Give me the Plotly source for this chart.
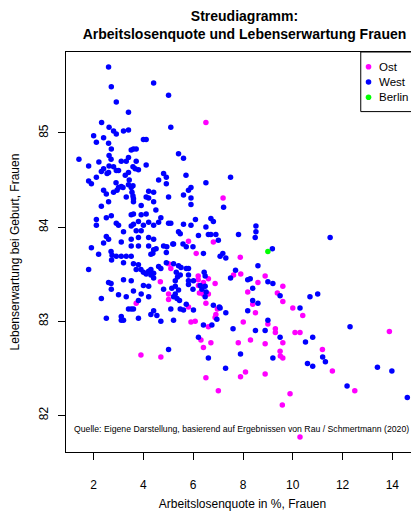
import plotly.graph_objects as go

# Arbeitslosenquote (x) und Lebenserwartung (y) je Kreis
west_x = [2.60, 2.71, 4.41, 5.01, 2.91, 3.40, 2.32, 5.10, 2.62, 2.80, 2.91, 3.20, 3.40, 2.00, 2.40, 2.11, 2.60,
          4.00, 4.11, 2.71, 3.51, 3.60, 3.71, 1.41, 2.62, 2.70, 2.21, 1.80, 3.11, 3.31, 3.40, 3.71, 4.11, 2.40,
          2.62, 2.80, 2.31, 2.54, 2.60, 2.91, 3.00, 3.58, 3.67, 3.80, 3.40, 3.27, 2.11, 1.80, 1.91, 3.43, 2.90,
          3.40, 3.51, 3.58, 3.11, 3.00, 2.94, 3.18, 2.80, 2.40, 2.51, 3.31, 3.58, 3.54, 2.60, 2.31, 3.60, 3.60,
          3.91, 4.11, 4.21, 4.41, 4.41, 4.21, 4.61, 4.81, 4.92, 4.92, 5.01, 4.50, 3.60, 3.51, 3.91, 4.11, 2.11,
          2.11, 2.51, 2.71, 2.91, 3.00, 3.20, 3.51, 3.60, 3.80, 3.71, 3.91, 4.21, 4.00, 4.41, 4.61, 4.70, 5.01,
          5.10, 5.61, 5.91, 6.09, 6.51, 6.71, 6.81, 5.41, 5.48, 6.21, 6.61, 6.71, 6.91, 7.01, 7.82, 8.52, 8.52,
          7.22, 6.51, 7.50, 5.41, 5.61, 5.71, 5.61, 5.81, 5.91, 5.91, 5.91, 2.51, 2.60, 2.40, 3.11, 3.51, 3.80,
          4.21, 4.41, 5.21, 8.49, 11.50,
          1.91, 2.20, 2.70, 2.74, 2.72, 3.20, 2.91, 3.11, 3.31, 3.51, 3.80, 3.51, 3.60, 3.80, 4.21, 4.30, 4.41,
          4.38, 4.51, 4.81, 4.94, 4.92, 5.18, 5.59, 5.72, 5.99, 6.41, 1.80, 4.00, 4.11, 4.21, 4.30, 4.41, 4.30,
          3.71, 3.90, 4.61, 4.70, 4.41, 4.92, 5.21, 5.41, 5.51, 5.72, 5.81, 5.32, 5.48, 5.37, 5.81, 5.81, 5.81,
          6.35, 6.48, 6.48, 6.28, 6.48, 6.52, 6.44, 6.81, 7.05, 6.95, 6.75, 6.41, 6.21, 6.61, 5.01, 2.31, 2.51,
          2.60, 2.70, 2.71, 3.00, 3.11, 3.20, 3.11, 3.20, 3.31, 3.40, 3.51, 3.60, 3.51, 3.60, 3.91, 3.80, 3.80,
          4.21, 4.21, 4.00, 4.30, 4.41, 4.54, 4.70, 4.81, 5.14, 5.28, 5.28, 5.41, 5.35, 5.45, 5.21, 5.28, 5.10,
          5.21, 5.48, 5.72, 6.01, 5.61, 6.01, 5.99,
          9.18, 7.19, 7.08, 7.31, 8.60, 7.70, 7.50, 8.19, 8.29, 9.00, 9.20, 8.39, 9.49, 8.39, 8.60, 8.19, 7.08,
          7.31, 7.60, 10.69, 11.00, 10.29, 9.00, 8.50, 8.89, 9.49, 10.80, 10.51, 12.30, 7.90, 9.20, 11.20, 11.31,
          10.59, 10.80, 7.30, 13.40, 13.98, 12.18, 14.60]
west_y = [85.70, 85.49, 85.53, 85.40, 85.33, 85.22, 85.11, 85.06, 85.06, 85.02, 84.99, 85.02, 85.03, 84.97, 84.95,
          84.90, 84.89, 84.93, 84.93, 84.83, 84.82, 84.83, 84.83, 84.72, 84.76, 84.72, 84.69, 84.65, 84.70, 84.70,
          84.74, 84.70, 84.66, 84.62, 84.65, 84.64, 84.59, 84.57, 84.58, 84.60, 84.60, 84.64, 84.62, 84.61, 84.58,
          84.55, 84.53, 84.49, 84.46, 84.50, 84.47, 84.45, 84.42, 84.44, 84.43, 84.42, 84.39, 84.42, 84.37, 84.39,
          84.35, 84.32, 84.33, 84.37, 84.27, 84.22, 84.30, 84.27, 84.23, 84.32, 84.31, 84.37, 84.27, 84.38, 84.50,
          84.57, 84.53, 84.46, 84.32, 84.18, 84.14, 84.13, 84.13, 84.14, 84.08, 84.02, 84.10, 84.12, 84.04, 84.02,
          83.95, 84.01, 84.03, 84.06, 83.96, 83.96, 84.05, 84.02, 84.02, 84.05, 84.10, 84.04, 84.04, 84.03, 84.02,
          84.08, 84.00, 84.09, 84.06, 83.95, 83.93, 83.91, 83.92, 83.92, 83.92, 83.86, 83.92, 84.01, 83.95, 84.21,
          84.47, 84.53, 84.78, 84.73, 84.55, 84.34, 84.39, 84.42, 84.31, 84.24, 83.90, 83.87, 83.83, 83.84, 83.87,
          83.89, 83.89, 83.87, 83.82, 83.89, 83.89,
          83.78, 83.71, 83.74, 83.70, 83.65, 83.62, 83.69, 83.69, 83.69, 83.69, 83.80, 83.80, 83.61, 83.60, 83.80,
          83.71, 83.76, 83.72, 83.77, 83.80, 83.79, 83.73, 83.82, 83.82, 83.79, 83.79, 83.72, 83.55, 83.52, 83.50,
          83.53, 83.55, 83.51, 83.49, 83.55, 83.55, 83.58, 83.56, 83.46, 83.62, 83.61, 83.59, 83.57, 83.56, 83.56,
          83.52, 83.49, 83.47, 83.49, 83.43, 83.39, 83.34, 83.37, 83.48, 83.38, 83.26, 83.31, 83.52, 83.17, 83.15,
          83.02, 82.96, 82.96, 82.83, 82.61, 82.70, 83.24, 83.03, 83.41, 83.40, 83.34, 83.28, 83.05, 83.01, 83.01,
          83.44, 83.26, 83.13, 83.13, 83.13, 83.43, 83.32, 83.29, 83.22, 83.03, 83.26, 83.37, 83.38, 83.07, 83.11,
          83.06, 83.00, 83.34, 83.35, 83.37, 83.29, 83.33, 83.24, 83.22, 83.26, 83.43, 83.13, 83.01, 83.13, 83.18,
          83.12, 83.12, 83.43, 83.34,
          83.77, 83.72, 83.69, 83.67, 83.59, 83.54, 83.46, 83.44, 83.45, 83.42, 83.40, 83.35, 83.27, 83.22, 83.19,
          83.11, 83.14, 83.09, 82.92, 83.26, 83.29, 83.14, 83.01, 82.90, 82.90, 82.83, 82.83, 82.78, 82.94, 82.65,
          82.61, 82.62, 82.57, 82.55, 82.52, 82.50, 82.51, 82.47, 82.31, 82.19]

ost_x = [6.51, 5.81, 6.81, 7.20,
         6.12, 5.01, 5.10, 4.68, 6.20, 6.20, 6.21, 6.41, 6.41, 6.61, 6.88, 6.25, 6.39, 6.61, 6.51, 6.97, 6.91,
         6.88, 6.61, 5.91, 6.08, 6.31, 6.71, 6.41, 3.90, 4.70, 6.51, 7.01, 5.01, 5.01, 3.71, 5.81,
         7.89, 7.62, 7.91, 8.89, 8.60, 9.60, 8.19, 9.38, 9.60, 8.39, 8.50, 8.01, 10.00, 10.40, 9.00, 9.30, 9.30,
         10.09, 10.29, 8.30, 7.81, 8.89, 9.60, 13.88, 11.19, 9.49, 9.50, 9.60, 11.59, 8.10, 7.90, 8.89, 12.49,
         9.89, 9.58, 10.29]
ost_y = [85.11, 83.85, 83.84, 84.31,
         83.72, 83.61, 83.56, 83.42, 83.48, 83.44, 83.38, 83.41, 83.37, 83.45, 83.40, 83.30, 83.29, 83.29, 83.19,
         83.13, 83.07, 83.04, 82.94, 82.99, 83.00, 82.80, 82.77, 82.72, 82.64, 82.62, 82.40, 82.26, 83.29, 83.23,
         83.19, 83.15,
         83.68, 83.49, 83.50, 83.48, 83.41, 83.37, 83.31, 83.30, 83.21, 83.18, 83.09, 82.99, 83.14, 83.06, 82.97,
         82.92, 82.88, 82.88, 82.88, 82.80, 82.77, 82.76, 82.77, 82.89, 82.70, 82.68, 82.63, 82.61, 82.47, 82.46,
         82.41, 82.44, 82.26, 82.23, 82.11, 81.77]

berlin_x = [9.00]
berlin_y = [83.74]

gruppen = ["Ost", "West", "Berlin"]
farben = ["#FF00FF", "#0000FF", "#00FF00"]

x_ticks = [2, 4, 6, 8, 10, 12, 14]
y_ticks = [82, 83, 84, 85]

schrift = "Liberation Sans, Arial, sans-serif"

fig = go.Figure()
for name, farbe, xs, ys in zip(gruppen, farben, [ost_x, west_x, berlin_x], [ost_y, west_y, berlin_y]):
    fig.add_trace(go.Scatter(x=xs, y=ys, mode="markers", name=name,
                             marker=dict(color=farbe, size=5.5)))

# Legende von Hand (Kasten rechts oben, wie bei R's legend())
shapes = [dict(type="rect", xref="paper", yref="paper", x0=0.835, x1=1.05, y0=0.851, y1=1.0,
               line=dict(color="black", width=1), fillcolor="white", layer="above")]
annotations = []
for i, (name, farbe) in enumerate(zip(gruppen, farben)):
    yy = 0.963 - i * 0.038
    shapes.append(dict(type="circle", xref="paper", yref="paper", xsizemode="pixel", ysizemode="pixel",
                       xanchor=0.857, yanchor=yy, x0=-2.8, x1=2.8, y0=-2.8, y1=2.8,
                       fillcolor=farbe, line=dict(width=0), layer="above"))
    annotations.append(dict(text=name, xref="paper", yref="paper", x=0.885, y=yy, xanchor="left",
                            yanchor="middle", showarrow=False, borderpad=0, font=dict(size=11.5)))

annotations.append(dict(text="Quelle: Eigene Darstellung, basierend auf Ergebnissen von Rau / Schmertmann (2020)",
                        xref="paper", x=(73 - 66) / 353, yref="y", y=81.855, showarrow=False,
                        xanchor="left", yanchor="middle", borderpad=0, font=dict(size=8.7)))

# Die Seite hat 8px Rand, daher 411x503 statt 419x511
fig.update_layout(
    width=411, height=503,
    margin=dict(l=58, r=0, t=44, b=59, autoexpand=False),
    paper_bgcolor="white", plot_bgcolor="white",
    font=dict(family=schrift, size=12, color="black"),
    title=dict(text="<b>Streudiagramm:<br>Arbeitslosenquote und Lebenserwartung Frauen</b>",
               x=(244.5 - 8) / 411, xanchor="center", xref="container",
               y=0.974, yanchor="top", yref="container",
               font=dict(size=14, family=schrift)),
    showlegend=False,
    shapes=shapes,
    annotations=annotations,
)

fig.update_xaxes(range=[0.89, 15.07], tickvals=x_ticks, ticks="outside", ticklen=7,
                 tickcolor="black", showline=True, linecolor="black", mirror=True,
                 showgrid=False, zeroline=False, ticklabelstandoff=15, automargin=False,
                 title=dict(text="Arbeitslosenquote in %, Frauen", standoff=13, font=dict(size=12)))
fig.update_yaxes(range=[81.61, 85.86], tickvals=y_ticks, ticks="outside", ticklen=7,
                 tickcolor="black", showline=True, linecolor="black",
                 showgrid=False, zeroline=False, tickangle=-90, ticklabelstandoff=5, automargin=False,
                 title=dict(text="Lebenserwartung bei Geburt, Frauen", standoff=16, font=dict(size=12)))

fig.write_html("out.html")
